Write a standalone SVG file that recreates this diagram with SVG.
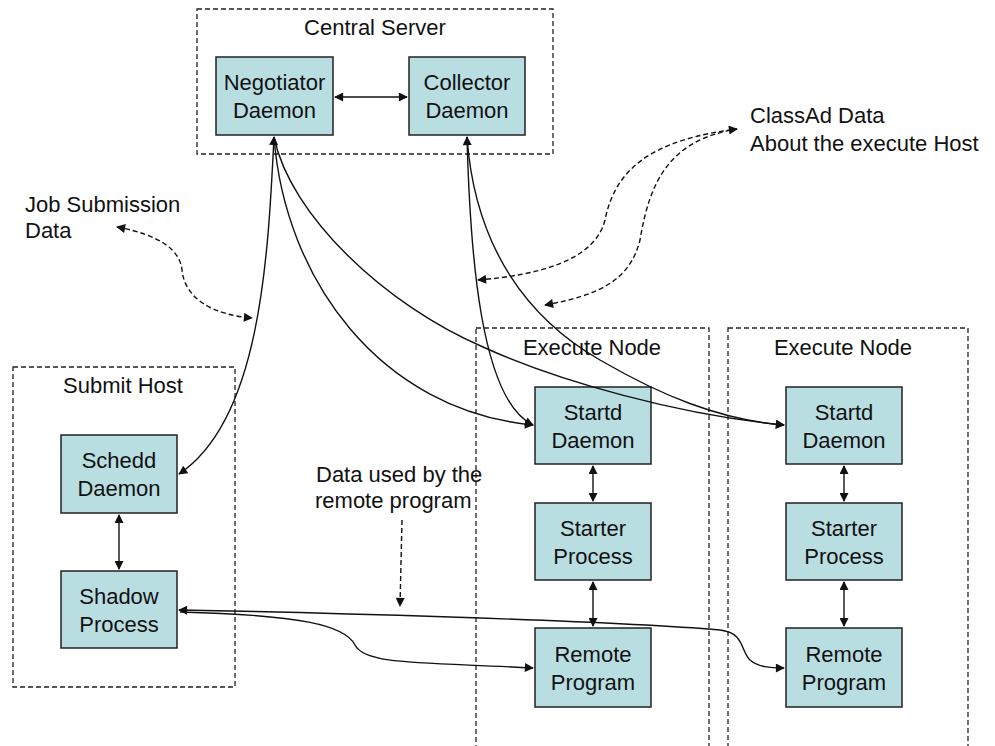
<svg xmlns="http://www.w3.org/2000/svg" width="995" height="746" viewBox="0 0 995 746">
<defs>
<marker id="ah" viewBox="0 0 10 10" refX="9" refY="5" markerWidth="11" markerHeight="9" markerUnits="userSpaceOnUse" orient="auto-start-reverse">
<path d="M0,0 L10,5 L0,10 z" fill="#111"/>
</marker>
<style>
text{font-family:"Liberation Sans",Arial,sans-serif;font-size:22px;fill:#111}
.c{text-anchor:middle}
.box{fill:#B9DEE2;stroke:#222;stroke-width:1.5}
.grp{fill:none;stroke:#222;stroke-width:1.3;stroke-dasharray:5 3}
.ln{fill:none;stroke:#111;stroke-width:1.4}
.dl{fill:none;stroke:#111;stroke-width:1.4;stroke-dasharray:5 3}
</style>
</defs>
<rect width="995" height="746" fill="#fff"/>
<g id="central-server">
<rect class="grp" x="197" y="9" width="356" height="145"/>
<text class="c" x="375" y="35">Central Server</text>
</g>
<g id="submit-host">
<rect class="grp" x="13" y="367" width="222" height="320"/>
<text class="c" x="123" y="393">Submit Host</text>
</g>
<g id="execute-node-1">
<rect class="grp" x="476" y="328" width="233" height="430"/>
<text class="c" x="592" y="355">Execute Node</text>
</g>
<g id="execute-node-2">
<rect class="grp" x="728" y="328" width="240" height="430"/>
<text class="c" x="843" y="355">Execute Node</text>
</g>
<g id="negotiator"><rect class="box" x="216" y="57" width="117" height="78"/><text class="c" x="274.5" y="90">Negotiator</text><text class="c" x="274.5" y="118">Daemon</text></g>
<g id="collector"><rect class="box" x="409" y="57" width="116" height="78"/><text class="c" x="467" y="90">Collector</text><text class="c" x="467" y="118">Daemon</text></g>
<g id="schedd"><rect class="box" x="61" y="435" width="116" height="78"/><text class="c" x="119" y="468">Schedd</text><text class="c" x="119" y="496">Daemon</text></g>
<g id="shadow"><rect class="box" x="61" y="571" width="116" height="77"/><text class="c" x="119" y="603.5">Shadow</text><text class="c" x="119" y="631.5">Process</text></g>
<g id="startd-1"><rect class="box" x="535" y="387" width="116" height="77"/><text class="c" x="593" y="419.5">Startd</text><text class="c" x="593" y="447.5">Daemon</text></g>
<g id="starter-1"><rect class="box" x="535" y="503" width="116" height="77"/><text class="c" x="593" y="535.5">Starter</text><text class="c" x="593" y="563.5">Process</text></g>
<g id="remote-1"><rect class="box" x="535" y="628" width="116" height="79"/><text class="c" x="593" y="661.5">Remote</text><text class="c" x="593" y="689.5">Program</text></g>
<g id="startd-2"><rect class="box" x="786" y="387" width="116" height="77"/><text class="c" x="844" y="419.5">Startd</text><text class="c" x="844" y="447.5">Daemon</text></g>
<g id="starter-2"><rect class="box" x="786" y="503" width="116" height="77"/><text class="c" x="844" y="535.5">Starter</text><text class="c" x="844" y="563.5">Process</text></g>
<g id="remote-2"><rect class="box" x="786" y="628" width="116" height="79"/><text class="c" x="844" y="661.5">Remote</text><text class="c" x="844" y="689.5">Program</text></g>
<g id="labels">
<text x="25" y="212">Job Submission</text>
<text x="25" y="238">Data</text>
<text x="750" y="123">ClassAd Data</text>
<text x="750" y="151">About the execute Host</text>
<text x="316" y="482">Data used by the</text>
<text x="315" y="508">remote program</text>
</g>
<g id="connectors">
<path class="ln" d="M335,97 L407,97" marker-start="url(#ah)" marker-end="url(#ah)"/>
<path class="ln" d="M274,137 C268,260 260,420 179,474" marker-start="url(#ah)" marker-end="url(#ah)"/>
<path class="ln" d="M274,137 C285,280 380,410 533,425" marker-end="url(#ah)"/>
<path class="ln" d="M274,137 C290,215 385,305 483,347 C560,382 680,415 784,425" marker-end="url(#ah)"/>
<path class="ln" d="M467,137 C470,250 480,400 533,425" marker-start="url(#ah)" marker-end="url(#ah)"/>
<path class="ln" d="M467,137 C475,250 530,320 600,360 C660,395 720,420 784,425" marker-end="url(#ah)"/>
<path class="ln" d="M119,515 L119,569" marker-start="url(#ah)" marker-end="url(#ah)"/>
<path class="ln" d="M593,466 L593,501" marker-start="url(#ah)" marker-end="url(#ah)"/>
<path class="ln" d="M593,582 L593,626" marker-start="url(#ah)" marker-end="url(#ah)"/>
<path class="ln" d="M844,466 L844,501" marker-start="url(#ah)" marker-end="url(#ah)"/>
<path class="ln" d="M844,582 L844,626" marker-start="url(#ah)" marker-end="url(#ah)"/>
<path class="ln" d="M179,610 C300,612 600,620 720,630 C745,633 740,650 750,660 C758,667 770,668 784,668" marker-start="url(#ah)" marker-end="url(#ah)"/>
<path class="ln" d="M180,612 C300,615 345,625 355,645 C365,665 420,662 533,668" marker-end="url(#ah)"/>
<path class="dl" d="M117,227 C160,235 180,250 182,270 C185,300 215,315 252,318" marker-start="url(#ah)" marker-end="url(#ah)"/>
<path class="dl" d="M478,280 C540,275 595,260 605,220 C615,170 650,140 737,129" marker-start="url(#ah)" marker-end="url(#ah)"/>
<path class="dl" d="M545,305 C600,295 630,280 640,240 C650,180 670,140 737,129" marker-start="url(#ah)"/>
<path class="dl" d="M402,520 L400,606" marker-end="url(#ah)"/>
</g>
</svg>
